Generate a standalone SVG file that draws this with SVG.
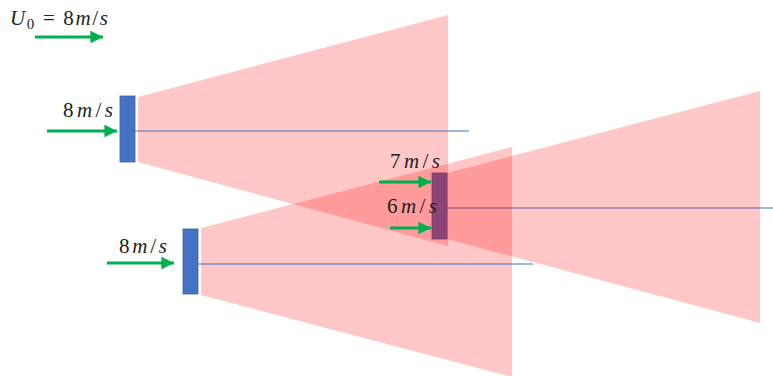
<svg xmlns="http://www.w3.org/2000/svg" width="773" height="376" viewBox="0 0 773 376">
<defs>
<style>
.cone{fill:#ff0000;fill-opacity:0.22}
.rotor{fill:#4472C4;stroke:#3a62a8;stroke-width:0.8}
.axis{stroke:#4472C4;stroke-width:1.1;fill:none}
.flow{stroke:#00B050;stroke-width:3;fill:none}
.lbl{font-family:"Liberation Serif","DejaVu Serif",serif;font-size:21px;fill:#222}
.it{font-style:italic}
</style>
<marker id="ah" viewBox="0 0 10 10" refX="10" refY="5" markerWidth="4.4" markerHeight="4.2" orient="auto" markerUnits="strokeWidth">
<path d="M0,0 L10,5 L0,10 Z" fill="#00B050"/>
</marker>
</defs>
<rect width="773" height="376" fill="#ffffff"/>
<g id="rotor3">
<rect class="rotor" x="432" y="173" width="15" height="66"/>
</g>
<line class="axis" x1="447" y1="208" x2="773" y2="208"/>
<g id="wakes">
<polygon id="wake1" class="cone" points="138,97 448,15 448,246 138,162"/>
<polygon id="wake2" class="cone" points="201,228 512,147 512,377 201,295"/>
<polygon id="wake3" class="cone" points="447,173 760,91 760,323 447,239"/>
</g>
<g id="rotor1">
<rect class="rotor" x="120" y="96" width="15" height="66"/>
</g>
<g id="rotor2">
<rect class="rotor" x="183" y="229" width="15" height="65"/>
</g>
<g id="connectors">
<line class="axis" x1="135" y1="131" x2="469" y2="131"/>
<line class="axis" x1="198" y1="264" x2="533" y2="264"/>
<line class="flow" x1="35" y1="37" x2="103" y2="37" marker-end="url(#ah)"/>
<line class="flow" x1="47" y1="131" x2="117" y2="131" marker-end="url(#ah)"/>
<line class="flow" x1="107" y1="263" x2="174" y2="263" marker-end="url(#ah)"/>
<line class="flow" x1="379" y1="182" x2="431" y2="182" marker-end="url(#ah)"/>
<line class="flow" x1="390" y1="228" x2="431" y2="228" marker-end="url(#ah)"/>
</g>
<g id="labels">
<text class="lbl" x="10" y="25" textLength="98" lengthAdjust="spacing"><tspan class="it">U</tspan><tspan font-size="15" dy="4">0</tspan><tspan dy="-4"> = 8</tspan><tspan class="it">m</tspan>/<tspan class="it">s</tspan></text>
<text class="lbl" x="63" y="117" textLength="50" lengthAdjust="spacing">8<tspan class="it">m</tspan>/<tspan class="it">s</tspan></text>
<text class="lbl" x="119" y="253" textLength="48" lengthAdjust="spacing">8<tspan class="it">m</tspan>/<tspan class="it">s</tspan></text>
<text class="lbl" x="390" y="168" textLength="50" lengthAdjust="spacing">7<tspan class="it">m</tspan>/<tspan class="it">s</tspan></text>
<text class="lbl" x="387" y="213" textLength="50" lengthAdjust="spacing">6<tspan class="it">m</tspan>/<tspan class="it">s</tspan></text>
</g>
</svg>
